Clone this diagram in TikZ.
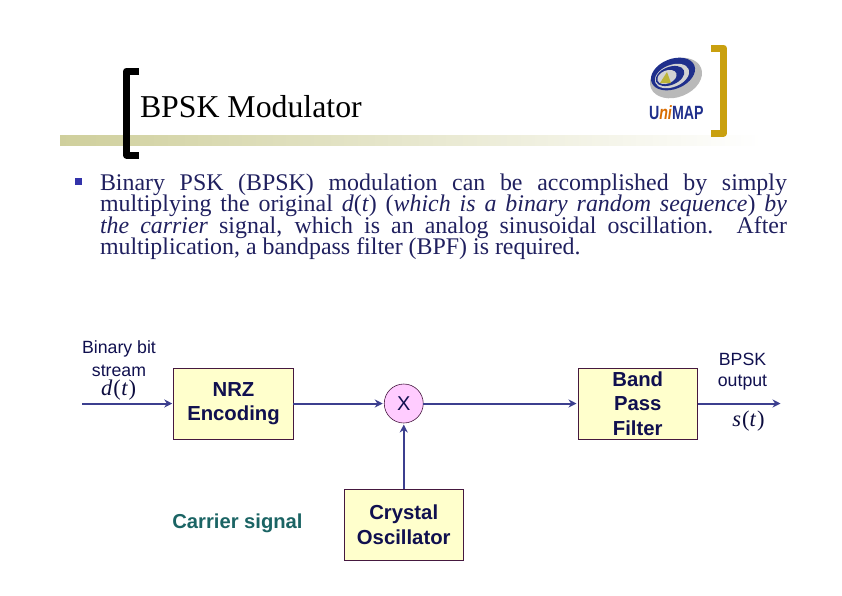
\documentclass[tikz,border=0pt]{standalone}
\usepackage{fontspec}
\setmainfont{Liberation Serif}
\setsansfont{Liberation Sans}
\usepackage{xcolor}
\usepackage{tikz}
\usetikzlibrary{calc, shapes.geometric, arrows.meta, positioning, fadings}
\definecolor{ruleOlive}{HTML}{CFCF9C}
\definecolor{bracketGold}{HTML}{C9A00F}
\definecolor{boxYellow}{HTML}{FFFFCC}
\definecolor{boxEdge}{HTML}{45183F}
\definecolor{mixPink}{HTML}{FFCCFF}
\definecolor{lineBlue}{HTML}{3C3F8F}
\definecolor{inkNavy}{HTML}{10104F}
\definecolor{bodyInk}{HTML}{20205F}
\definecolor{bulletBlue}{HTML}{3333AA}
\definecolor{carrierTeal}{HTML}{1B6464}
\definecolor{logoBlue}{HTML}{1F2F8C}
\lineskiplimit=-20pt

\begin{document}
\begin{tikzpicture}[
            x=1pt, y=-1pt,
            every node/.style={inner sep=0pt, outer sep=0pt},
            block/.style={rectangle, draw=boxEdge, fill=boxYellow, line width=0.9pt, minimum width=119.5pt, minimum height=71pt, align=center, text=inkNavy, font=\sffamily\bfseries\fontsize{20.3}{24.5}\selectfont},
            mixer/.style={circle, draw=boxEdge, fill=mixPink, line width=0.6pt, minimum size=39pt, text=inkNavy, font=\sffamily\fontsize{20}{24}\selectfont},
            caption/.style={align=center, text=inkNavy, font=\sffamily\fontsize{17.7}{23}\selectfont},
            signal/.style={text=inkNavy!80!black, font=\fontsize{22.5}{24}\selectfont},
            arrow/.style={-{Stealth[length=8pt, width=8pt]}, line width=2pt, color=lineBlue, shorten >=1.5pt},
            bracketbar/.style={line width=7pt, line cap=butt, line join=round}
        ]
            \useasboundingbox (0,0) rectangle (842,595);

            % Header
            \fill[ruleOlive, path fading=east] (60,135) rectangle (760,146);
            \draw[bracketbar, black] (139,71) -- (126.5,71) -- (126.5,155) -- (139,155);
            \draw[bracketbar, bracketGold] (711,48) -- (723.5,48) -- (723.5,133) -- (711,133);
            \node[anchor=base west, font=\fontsize{31.8}{34}\selectfont] (title) at (140,117) {BPSK Modulator};

            % Logo
            \fill[gray!55, rotate around={22:(676,78)}] (676,78) ellipse (27pt and 19pt);
            \fill[logoBlue, rotate around={22:(673,74)}] (673,74) ellipse (23pt and 15pt);
            \fill[gray!35, rotate around={22:(672,76)}] (672,76) ellipse (18pt and 11pt);
            \fill[logoBlue, rotate around={22:(670,76)}] (670,76) ellipse (15pt and 9pt);
            \fill[gray!35, rotate around={22:(667,77)}] (667,77) ellipse (10pt and 6.5pt);
            \fill[yellow!70!black] (660,83) -- (667,72) -- (671,83) -- cycle;
            \node[anchor=base west, text=logoBlue, yscale=1.35, font=\sffamily\bfseries\fontsize{14.2}{16}\selectfont] (logo) at (649,119) {U\textcolor{orange!85!black}{\textit{ni}}MAP};

            % Text
            \node[rectangle, fill=bulletBlue, minimum size=7pt] (bullet) at (78.5,181.5) {};
            \node[anchor=north west, text width=687pt, align=justify, text=bodyInk, font=\fontsize{23.9}{21.4}\selectfont] (body) at (100,174) {\lineskiplimit=-20pt Binary PSK (BPSK) modulation can be accomplished by simply\linebreak multiplying the original \textit{d}(\textit{t}) (\textit{which is a binary random sequence}) \textit{by}\linebreak \textit{the carrier} signal, which is an analog sinusoidal oscillation. After\linebreak multiplication, a bandpass filter (BPF) is required.\par};

            % Nodes
            \node[block] (nrz) at (233.5,403.5) {NRZ\\Encoding};
            \node[mixer, right=91pt of nrz] (mix) {X};
            \node[block, below=66pt of mix] (osc) {Crystal\\Oscillator};
            \node[block, right=154.75pt of mix] (bpf) {Band\\Pass\\Filter};
            \coordinate (in) at (82,403.5);
            \coordinate (out) at (782,403.5);
            \node[caption] (stream) at (119,359) {Binary bit\\stream};
            \node[signal] (dt) at (118.5,390.5) {\textit{d}\kern1pt(\kern0.5pt\textit{t}\kern0.5pt)};
            \node[caption, font=\sffamily\fontsize{17.7}{21}\selectfont] (bpsk) at (742.5,372) {BPSK\\output};
            \node[signal] (st) at (748.5,421.5) {\textit{s}\kern1pt(\textit{t}\kern1pt)};
            \node[text=carrierTeal, font=\sffamily\bfseries\fontsize{20.2}{24}\selectfont] (carrier) at (237.5,523.5) {Carrier signal};

            % Arrows
            \draw[arrow] (in) -- (nrz);
            \draw[arrow] (nrz) -- (mix);
            \draw[arrow] (mix) -- (bpf);
            \draw[arrow] (osc) -- (mix);
            \draw[arrow] (bpf) -- (out);
        \end{tikzpicture}
\end{document}
